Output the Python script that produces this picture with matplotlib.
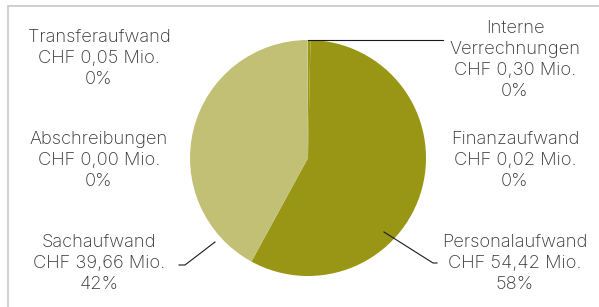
import matplotlib.pyplot as plt
from matplotlib.patches import Rectangle

plt.rcParams['font.family'] = ['Inter', 'Roboto', 'DejaVu Sans']

# Aufwand in CHF Mio.
labels = ['Interne Verrechnungen', 'Finanzaufwand', 'Personalaufwand', 'Sachaufwand',
          'Abschreibungen', 'Transferaufwand']
values = [0.30, 0.02, 54.42, 39.66, 0.00, 0.05]
colors = ['#989614', '#989614', '#989614', '#c1c075', '#c1c075', '#c1c075']

W, H = 599, 307
fig = plt.figure(figsize=(W / 100, H / 100), dpi=100)
ax = fig.add_axes([0, 0, 1, 1])

def py(y):
    # pixel y (von oben) -> Datenkoordinate
    return H - y

ax.pie(values, colors=colors, startangle=90, counterclock=False,
       center=(308, py(158)), radius=118, wedgeprops={'linewidth': 0})

total = sum(values)
def lines(i):
    v = values[i]
    s = '{:.2f}'.format(v).replace('.', ',')
    name = labels[i].split(' ') if i == 0 else [labels[i]]
    return name + ['CHF {} Mio.'.format(s), '{}%'.format(round(v / total * 100))]

# Position der Beschriftungen (Pixel: x-Mitte, Grundlinie der ersten Zeile)
pos = {0: (515, 32.5), 1: (515, 143.5), 2: (515, 246.7), 3: (99, 246.7),
       4: (99, 143.5), 5: (99, 41.7)}
step = 21
for i, (x, y) in pos.items():
    for k, t in enumerate(lines(i)):
        ax.text(x, py(y + k * step), t, ha='center', va='baseline',
                fontsize=13.2, fontweight='light', color='#333333')

# Hinweislinien
lc = dict(color='#1a1a1a', lw=0.8)
ax.plot([384, 433, 437], [py(232), py(263), py(263)], **lc)
ax.plot([215, 185, 179], [py(242), py(265), py(265)], **lc)
ax.plot([308, 443], [py(40), py(40)], **lc)

ax.add_patch(Rectangle((8, py(H + 5)), W, H - 1, fill=False, ec='#c8c8c8', lw=1.2))

ax.set_xlim(0, W)
ax.set_ylim(0, H)
ax.set_aspect('equal')
ax.axis('off')

fig.savefig('out.png', dpi=100)
